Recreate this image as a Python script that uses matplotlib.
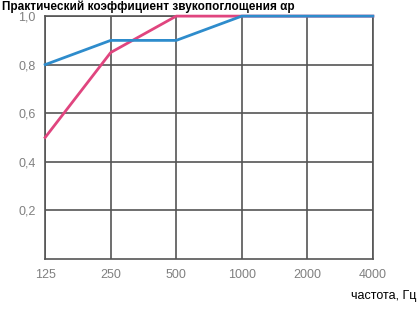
import numpy as np
import matplotlib.pyplot as plt

freqs = ["125", "250", "500", "1000", "2000", "4000"]
blue_vals = [0.80, 0.90, 0.90, 1.00, 1.00, 1.00]
pink_vals = [0.50, 0.85, 1.00, 1.00, 1.00, 1.00]
y_ticks = [0.2, 0.4, 0.6, 0.8, 1.0]
y_labels = ["0,2", "0,4", "0,6", "0,8", "1,0"]

narrow = ["Liberation Sans Narrow", "Liberation Sans", "DejaVu Sans"]

fig = plt.figure(figsize=(4.18, 3.10), dpi=100)
ax = fig.add_axes([0.108, 0.165, 0.784, 0.783])

x = np.arange(len(freqs))
ax.plot(x, pink_vals, color="#e0457f", lw=2, zorder=3, clip_on=False)
ax.plot(x, blue_vals, color="#2e8ccc", lw=2, zorder=4, clip_on=False)

ax.set_xlim(0, len(freqs) - 1)
ax.set_ylim(0, 1.0)
ax.set_xticks(x)
ax.set_xticklabels(freqs, family=narrow, fontsize=9, color="#808080")
ax.set_yticks(y_ticks)
ax.set_yticklabels(y_labels, family=narrow, fontsize=9, color="#808080")
ax.tick_params(length=0, pad=7)
ax.grid(True, color="#555555", lw=1.2)
for s in ax.spines.values():
    s.set_color("#555555")
    s.set_linewidth(1.2)

fig.text(0.005, 0.998, "Практический коэффициент звукопоглощения αр",
         fontsize=8.5, fontweight="bold", va="top", ha="left", family=narrow)
fig.text(0.995, 0.045, "частота, Гц", fontsize=9, ha="right", va="center",
         family=narrow)

fig.savefig("out.png", dpi=100)
